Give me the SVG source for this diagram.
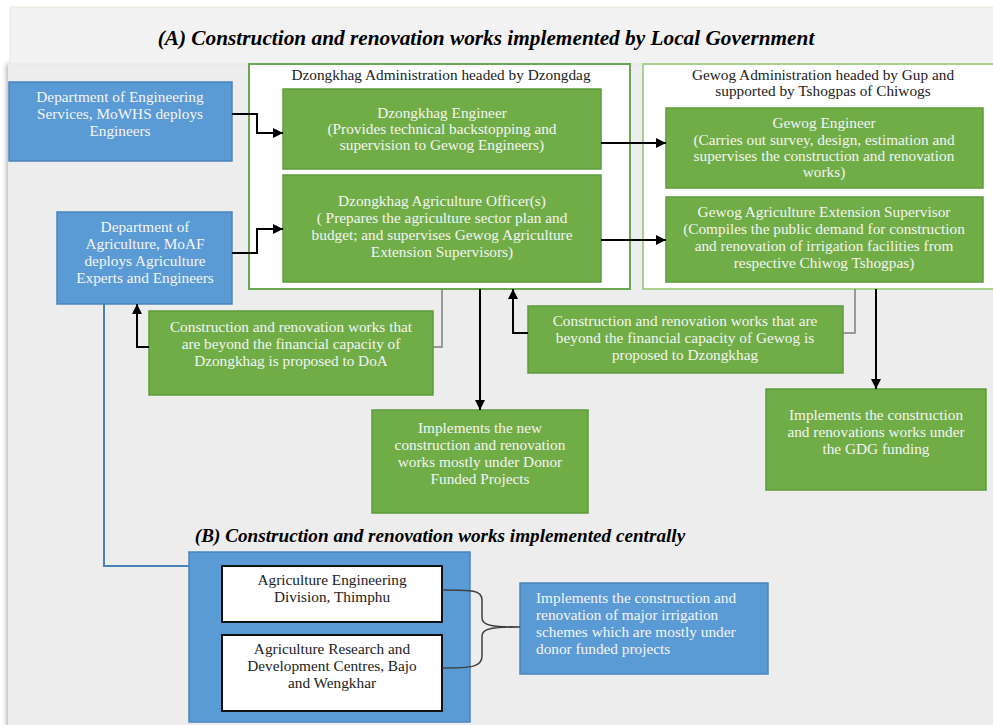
<svg xmlns="http://www.w3.org/2000/svg" width="993" height="725" viewBox="0 0 993 725">
<defs>
<marker id="ah" viewBox="0 0 10 10" refX="10" refY="5" markerWidth="10" markerHeight="10" markerUnits="userSpaceOnUse" orient="auto"><path d="M0,0 L10,5 L0,10 z" fill="#000"/></marker>
<filter id="sh" x="-5%" y="-5%" width="110%" height="110%"><feGaussianBlur stdDeviation="2"/></filter>
</defs>
<style>
.t{font-family:"Liberation Serif","Times New Roman",serif;font-size:15.3px;text-anchor:middle}
.s{text-anchor:start}
.w{fill:#f4f4f4}
.d{fill:#222}
.g{fill:#70ad47;stroke:#5e9a3b;stroke-width:1.5}
.b{fill:#5b9bd5;stroke:#4a84ba;stroke-width:1.5}
.a{fill:none;stroke:#000;stroke-width:2;marker-end:url(#ah)}
.gl{fill:none;stroke:#7f7f7f;stroke-width:1.5}
.h{font-family:"Liberation Serif","Times New Roman",serif;font-weight:bold;font-style:italic;fill:#000;text-anchor:middle}
</style>
<rect x="0" y="0" width="993" height="725" fill="#fff"/>
<rect x="6" y="64" width="990" height="665" fill="#bbb" filter="url(#sh)"/>
<rect x="8" y="64" width="990" height="665" fill="#ededed"/>
<rect x="10" y="7" width="988" height="57" fill="#f2f2f2" stroke="#e2ecd9" stroke-width="1"/>
<text class="h" x="486" y="45" font-size="21.3">(A) Construction and renovation works implemented by Local Government</text>
<text class="h" x="440" y="542" font-size="19.2">(B) Construction and renovation works implemented centrally</text>

<g id="dzongkhag-admin">
<rect x="249" y="64" width="381" height="225" fill="#fff" stroke="#6aa84f" stroke-width="2"/>
<text class="t d" x="441" y="80">Dzongkhag Administration headed by Dzongdag</text>
</g>
<g id="gewog-admin">
<rect x="643" y="64" width="360" height="225" fill="#fff" stroke="#a9d18e" stroke-width="2"/>
<text class="t d" x="823" y="80">Gewog Administration headed by Gup and</text>
<text class="t d" x="823" y="96">supported by Tshogpas of Chiwogs</text>
</g>

<g id="dept-eng">
<rect class="b" x="9" y="82" width="223" height="79"/>
<text class="t w" x="120" y="102">Department of Engineering</text>
<text class="t w" x="120" y="119">Services, MoWHS deploys</text>
<text class="t w" x="120" y="136">Engineers</text>
</g>
<g id="dept-agri">
<rect class="b" x="57" y="212" width="175" height="92"/>
<text class="t w" x="145" y="232">Department of</text>
<text class="t w" x="145" y="249">Agriculture, MoAF</text>
<text class="t w" x="145" y="266">deploys Agriculture</text>
<text class="t w" x="145" y="283">Experts and Engineers</text>
</g>
<g id="dz-engineer">
<rect class="g" x="283" y="89" width="318" height="80"/>
<text class="t w" x="442" y="118">Dzongkhag Engineer</text>
<text class="t w" x="442" y="134">(Provides technical backstopping and</text>
<text class="t w" x="442" y="150">supervision to Gewog Engineers)</text>
</g>
<g id="dz-agri-officer">
<rect class="g" x="283" y="175" width="318" height="107"/>
<text class="t w" x="442" y="206">Dzongkhag Agriculture Officer(s)</text>
<text class="t w" x="442" y="223">( Prepares the agriculture sector plan and</text>
<text class="t w" x="442" y="240">budget; and supervises Gewog Agriculture</text>
<text class="t w" x="442" y="257">Extension Supervisors)</text>
</g>
<g id="gewog-engineer">
<rect class="g" x="666" y="108" width="317" height="80"/>
<text class="t w" x="824" y="128">Gewog Engineer</text>
<text class="t w" x="824" y="145">(Carries out survey, design, estimation and</text>
<text class="t w" x="824" y="161">supervises the construction and renovation</text>
<text class="t w" x="824" y="177">works)</text>
</g>
<g id="gewog-aes">
<rect class="g" x="666" y="197" width="317" height="85"/>
<text class="t w" x="824" y="217">Gewog Agriculture Extension Supervisor</text>
<text class="t w" x="824" y="234">(Compiles the public demand for construction</text>
<text class="t w" x="824" y="251">and renovation of irrigation facilities from</text>
<text class="t w" x="824" y="268">respective Chiwog Tshogpas)</text>
</g>
<g id="proposal-doa">
<rect class="g" x="149" y="311" width="284" height="84"/>
<text class="t w" x="291" y="332">Construction and renovation works that</text>
<text class="t w" x="291" y="349">are beyond the  financial capacity of</text>
<text class="t w" x="291" y="366">Dzongkhag is proposed to DoA</text>
</g>
<g id="proposal-dzongkhag">
<rect class="g" x="528" y="306" width="315" height="67"/>
<text class="t w" x="685" y="326">Construction and renovation works that are</text>
<text class="t w" x="685" y="343">beyond the financial capacity of Gewog is</text>
<text class="t w" x="685" y="360">proposed to Dzongkhag</text>
</g>
<g id="donor-works">
<rect class="g" x="372" y="410" width="216" height="103"/>
<text class="t w" x="480" y="433">Implements the new</text>
<text class="t w" x="480" y="450">construction and renovation</text>
<text class="t w" x="480" y="467">works mostly under Donor</text>
<text class="t w" x="480" y="484">Funded Projects</text>
</g>
<g id="gdg-works">
<rect class="g" x="766" y="389" width="220" height="101"/>
<text class="t w" x="876" y="420">Implements the construction</text>
<text class="t w" x="876" y="437">and renovations works under</text>
<text class="t w" x="876" y="454">the GDG funding</text>
</g>
<g id="central">
<rect x="189" y="552" width="281" height="170" fill="#5b9bd5" stroke="#4a84ba" stroke-width="1.5"/>
</g>
<g id="aed">
<rect x="222" y="566" width="220" height="56" fill="#fff" stroke="#111" stroke-width="2"/>
<text class="t d" x="332" y="585">Agriculture Engineering</text>
<text class="t d" x="332" y="602">Division, Thimphu</text>
</g>
<g id="ardc">
<rect x="222" y="635" width="220" height="76" fill="#fff" stroke="#111" stroke-width="2"/>
<text class="t d" x="332" y="654">Agriculture Research and</text>
<text class="t d" x="332" y="671">Development Centres, Bajo</text>
<text class="t d" x="332" y="688">and Wengkhar</text>
</g>
<g id="major-works">
<rect class="b" x="520" y="583" width="248" height="91"/>
<text class="t s w" x="536" y="603">Implements the construction and</text>
<text class="t s w" x="536" y="620">renovation of major irrigation</text>
<text class="t s w" x="536" y="637">schemes which are mostly under</text>
<text class="t s w" x="536" y="654">donor funded projects</text>
</g>

<g id="connectors">
<path class="a" d="M232,114 H257 V133 H283"/>
<path class="a" d="M232,253 H257 V229 H283"/>
<path class="a" d="M601,143 H666"/>
<path class="a" d="M601,240 H666"/>
<path class="a" d="M480,289 V410"/>
<path class="a" d="M876,289 V389"/>
<path class="a" d="M149,347 H137 V304"/>
<path class="a" d="M528,333 H513 V289"/>
<path class="gl" d="M442,289 V347 H433"/>
<path class="gl" d="M855,289 V333 H843"/>
<path d="M104,304 V566 H189" fill="none" stroke="#4a84ba" stroke-width="2"/>
<path d="M442,590 C472,590 482,590 482,600 V618 C482,626 494,627 520,627 C494,627 482,628 482,636 V656 C482,667 472,668 442,668" fill="none" stroke="#404040" stroke-width="1.5"/>
</g>
</svg>
